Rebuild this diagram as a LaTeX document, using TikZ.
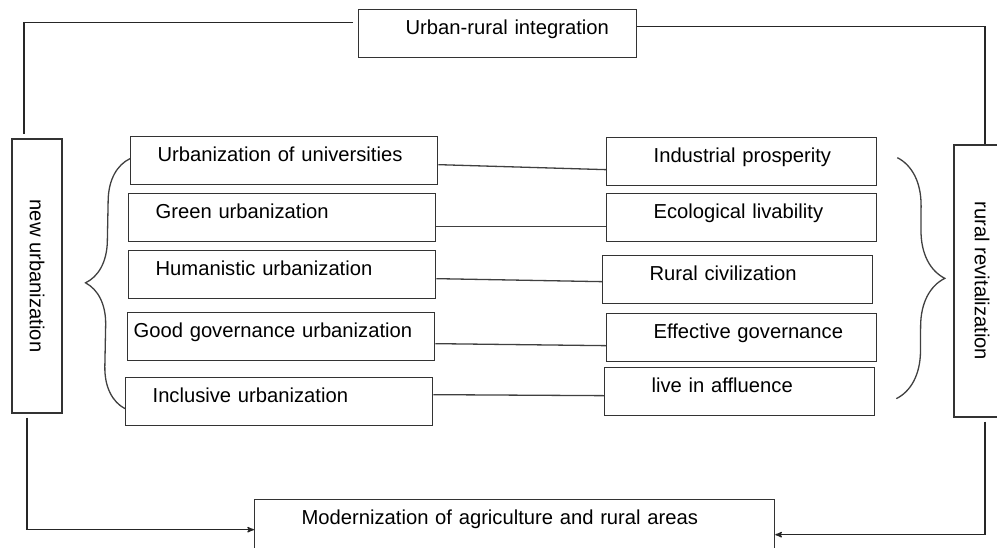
\documentclass[tikz,border=0pt]{standalone}
\usepackage{fontspec}
\setmainfont{Liberation Sans}
\usetikzlibrary{arrows,positioning,decorations.pathreplacing}

\tikzset{
  box/.style={draw=black!80, anchor=north west, align=left, inner xsep=4pt, inner ysep=5pt,
    text height=20pt, text depth=18pt},
  gap/.style={execute at begin node={\hspace*{#1}}},
  lbox/.style={box, text width=299pt, gap=#1},
  lbox/.default=23pt,
  rbox/.style={box, text width=262pt, gap=43pt},
  sidebox/.style={draw=black!80, rotate=-90, inner sep=0pt},
  curly/.style={draw=black!75, line width=1.3pt, decorate, decoration={brace, amplitude=#1}},
}

\begin{document}
\begin{tikzpicture}[x=1pt, y=-1pt, >=stealth', line width=1.3pt, font=\fontsize{20.2}{24}\selectfont]
    \useasboundingbox (0,0) rectangle (997,547);

    % Outer boxes
	\node [box, gap=43pt, text width=270pt] at (358,9) (Top) {Urban-rural integration};
	\node [box, gap=43pt, text width=512pt, text depth=30pt] at (254,499) (Bottom) {Modernization of agriculture and rural areas};
	\node [sidebox, minimum width=274pt, minimum height=50pt] at (37,276) (NewUrb) {new urbanization};
	\node [sidebox, minimum width=272pt, minimum height=56pt] at (982,281) (RurRev) {rural revitalization};

	% Urbanization side
	\node [lbox] at (130,136) (L1) {Urbanization of universities};
	\node [lbox] at (128,193) (L2) {Green urbanization};
	\node [lbox] at (128,250) (L3) {Humanistic urbanization};
	\node [lbox=2pt] at (127,312) (L4) {Good governance urbanization};
	\node [lbox] at (125,377) (L5) {Inclusive urbanization};

	% Revitalization side
	\node [rbox] at (606,137) (R1) {Industrial prosperity};
	\node [rbox] at (606,193) (R2) {Ecological livability};
	\node [rbox] at (602,255) (R3) {Rural civilization};
	\node [rbox] at (606,313) (R4) {Effective governance};
	\node [rbox] at (604,367) (R5) {live in affluence};

	% Pairs
	\path[draw=black!75]
	([yshift=-4pt]L1.east) edge ([yshift=-8pt]R1.west)
	([yshift=-9pt]L2.east) edge ([yshift=-9pt]R2.west)
	([yshift=-4pt]L3.east) edge ([yshift=-2pt]R3.west)
	([yshift=-7pt]L4.east) edge ([yshift=-8pt]R4.west)
	([yshift=7pt]L5.east) edge ([yshift=-4pt]R5.west)
	;

	% Braces
	\draw [curly=42pt] ([yshift=-7pt]L5.west) -- ([yshift=2pt]L1.west);
	\draw [curly=48pt] ([xshift=20pt,yshift=4pt]R1.east) -- ([xshift=21pt,yshift=-7pt]R5.east);

	% Outer loop
	\draw [draw=black!85] (Top.west) ++(-5,-11) -| ([xshift=-13pt,yshift=4pt]NewUrb.west);
	\draw [draw=black!85] ([yshift=7pt]Top.east) -| ([xshift=3pt]RurRev.west);
	\draw [->, draw=black!85] ([xshift=-10pt,yshift=-4pt]NewUrb.east) |- (Bottom.west);
	\draw [->, draw=black!85] ([xshift=3pt,yshift=-4pt]RurRev.east) |- ([yshift=-5pt]Bottom.east);

\end{tikzpicture}
\end{document}
